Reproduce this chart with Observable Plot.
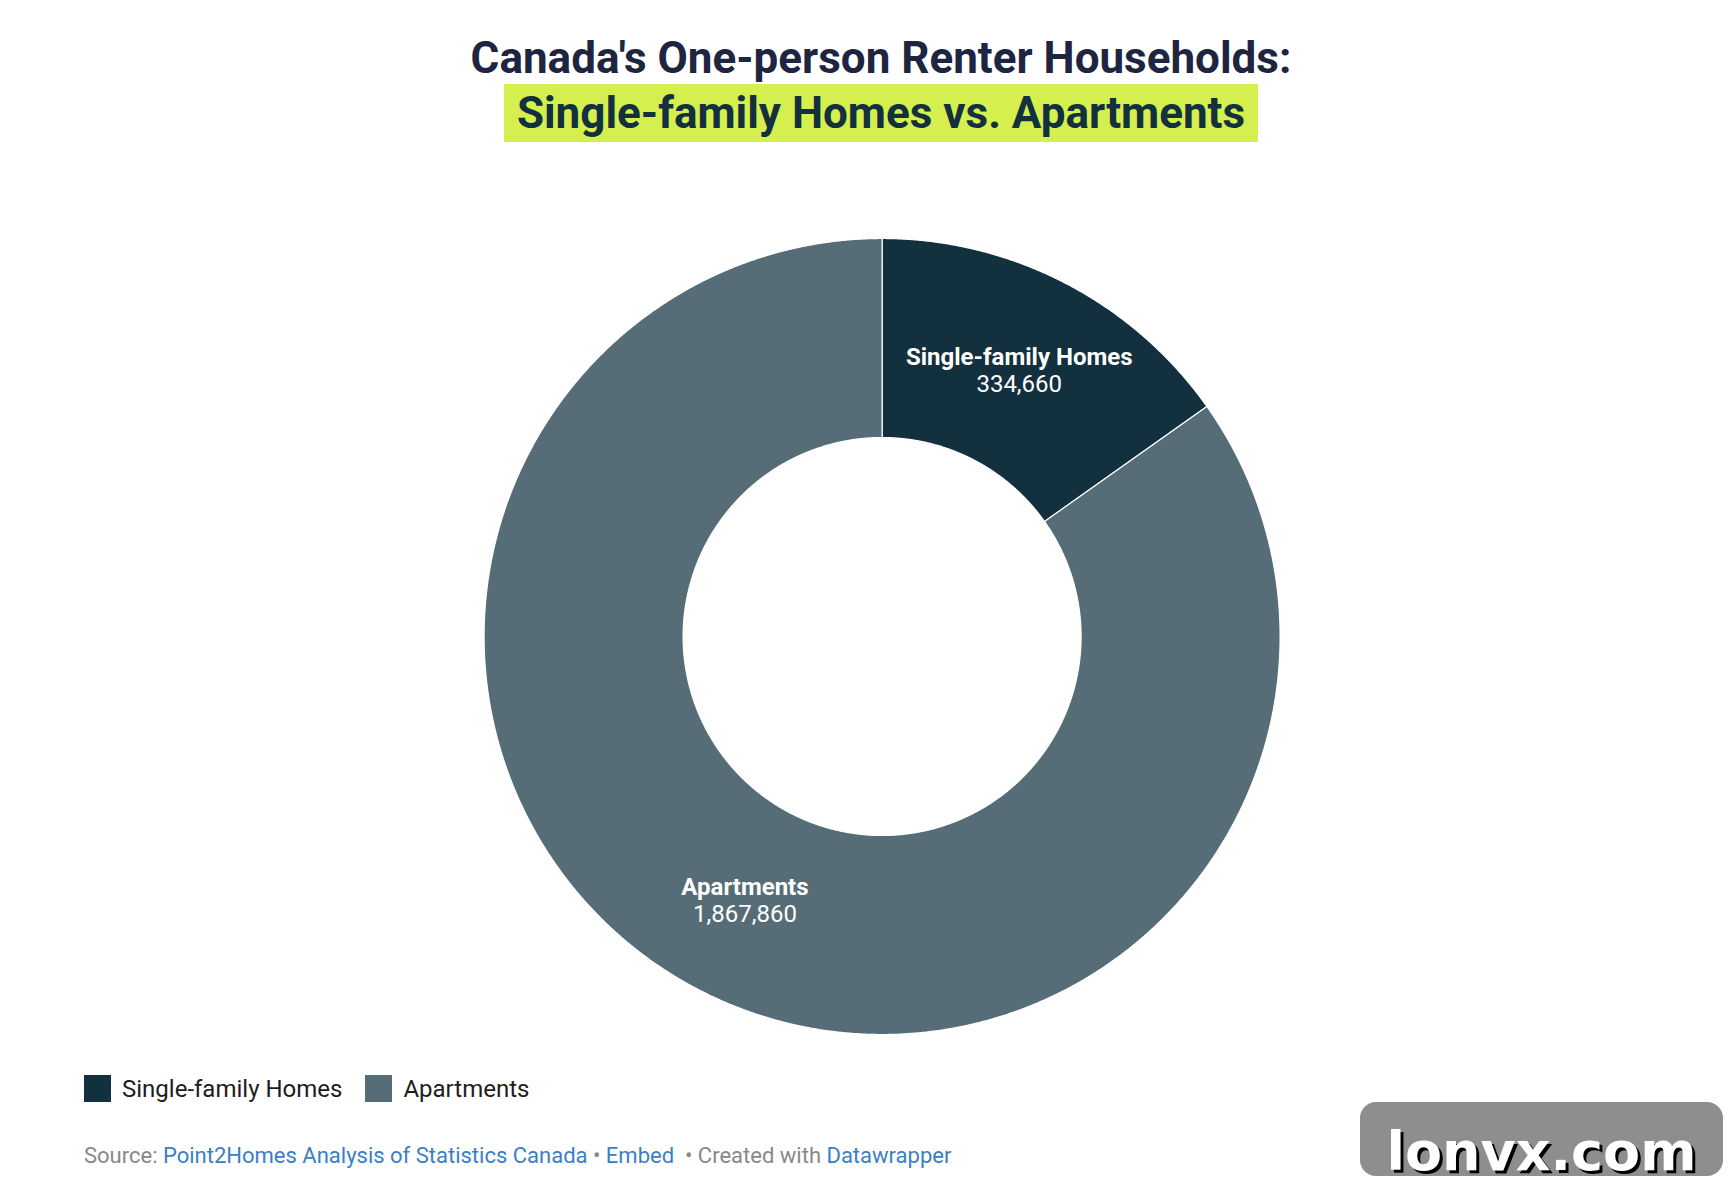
<!DOCTYPE html>
<html>
<head>
<meta charset="utf-8">
<script src="https://cdn.jsdelivr.net/npm/d3@7"></script>
<script src="https://cdn.jsdelivr.net/npm/@observablehq/plot@0.6"></script>
<style>
  html, body { margin: 0; padding: 0; background: #fff; }
  body { width: 1728px; height: 1192px; overflow: hidden; position: relative; font-family: Roboto, "Noto Sans", sans-serif; }
  #title1 { position: absolute; left: 0; width: 1762px; top: 32px; text-align: center; font-weight: 700; font-size: 44px; line-height: 52px; color: #1e2541; white-space: nowrap; }
  #title2 { position: absolute; left: 0; width: 1762px; top: 84px; text-align: center; white-space: nowrap; }
  #title2 span { display: inline-block; background: #d4ef4e; color: #12303d; font-weight: 700; font-size: 44px; line-height: 58px; padding: 0 13px; }
  #chart { position: absolute; left: 0; top: 160px; }
  #legend { position: absolute; left: 84px; top: 1075px; height: 27px; display: flex; align-items: center; font-size: 24px; color: #1d1d1d; white-space: nowrap; }
  #legend .item { display: flex; align-items: center; margin-right: 23px; }
  #legend .sw { width: 27px; height: 27px; margin-right: 11px; }
  #footer { position: absolute; left: 84px; top: 1143px; font-size: 22px; line-height: 26px; color: #888; white-space: nowrap; }
  #footer .lnk { color: #3a80c6; }
  #wm { position: absolute; left: 1360px; top: 1102px; width: 363px; height: 74px; border-radius: 16px; background: #8e8e8e; box-sizing: border-box; padding-top: 23px; text-align: center; line-height: 54px; font-family: "DejaVu Sans", sans-serif; font-weight: 700; font-size: 54px; color: #fff; text-shadow: 3px 3px 0 #000; overflow: visible; white-space: nowrap; }
</style>
</head>
<body>
<div id="title1"></div>
<div id="title2"><span></span></div>
<div id="chart"></div>
<div id="legend"></div>
<div id="footer"></div>
<div id="wm">lonvx.com</div>
<script>
// ---- data ----
const titleText = "Canada's One-person Renter Households:";
const subtitleText = "Single-family Homes vs. Apartments";
const categories = ["Single-family Homes", "Apartments"];
const values = [334660, 1867860];
const valueLabels = ["334,660", "1,867,860"];
const colors = ["#12303d", "#566d77"];
const sourceName = "Point2Homes Analysis of Statistics Canada";

document.getElementById("title1").textContent = titleText;
document.querySelector("#title2 span").textContent = subtitleText;

// ---- geometry from data ----
const rows = categories.map((c, i) => ({name: c, value: values[i], label: valueLabels[i]}));
const arcs = d3.pie().sort(null).value(d => d.value)(rows);
const rOuter = 1, rInner = 0.5;
const step = Math.PI / 720;
const pts = [];
for (const a of arcs) {
  const n = Math.max(2, Math.ceil((a.endAngle - a.startAngle) / step));
  for (let k = 0; k <= n; k++) {
    const t = a.startAngle + (a.endAngle - a.startAngle) * k / n;
    pts.push({name: a.data.name, x: rOuter * Math.sin(t), y: rOuter * Math.cos(t)});
  }
  for (let k = n; k >= 0; k--) {
    const t = a.startAngle + (a.endAngle - a.startAngle) * k / n;
    pts.push({name: a.data.name, x: rInner * Math.sin(t), y: rInner * Math.cos(t)});
  }
}
const labels = arcs.map(a => {
  const m = (a.startAngle + a.endAngle) / 2, r = (rOuter + rInner) / 2;
  return {name: a.data.name, label: a.data.label, x: r * Math.sin(m), y: r * Math.cos(m)};
});

const cx = 881.6, cy = 476, R = 398;
const chart = Plot.plot({
  width: 1728,
  height: 900,
  margin: 0,
  style: {fontFamily: "Roboto, sans-serif", background: "transparent"},
  x: {domain: [-1, 1], range: [cx - R, cx + R], axis: null},
  y: {domain: [-1, 1], range: [cy + R, cy - R], axis: null},
  color: {domain: categories, range: colors},
  marks: [
    Plot.line(pts, {x: "x", y: "y", z: "name", fill: "name", stroke: "#ffffff", strokeWidth: 1.2, curve: "linear-closed"}),
    Plot.text(labels, {x: "x", y: "y", text: "name", fill: "#ffffff", fontWeight: 700, fontSize: 24, dy: -14}),
    Plot.text(labels, {x: "x", y: "y", text: "label", fill: "#ffffff", fontWeight: 400, fontSize: 24, dy: 13})
  ]
});
document.getElementById("chart").appendChild(chart);

// ---- legend ----
const lg = document.getElementById("legend");
categories.forEach((c, i) => {
  const it = document.createElement("div"); it.className = "item";
  const sw = document.createElement("div"); sw.className = "sw"; sw.style.background = colors[i];
  const tx = document.createElement("span"); tx.textContent = c;
  it.appendChild(sw); it.appendChild(tx); lg.appendChild(it);
});

// ---- footer ----
document.getElementById("footer").innerHTML =
  'Source: <span class="lnk">' + sourceName + '</span> • <span class="lnk">Embed</span>&nbsp; • Created with <span class="lnk">Datawrapper</span>';
</script>
</body>
</html>
